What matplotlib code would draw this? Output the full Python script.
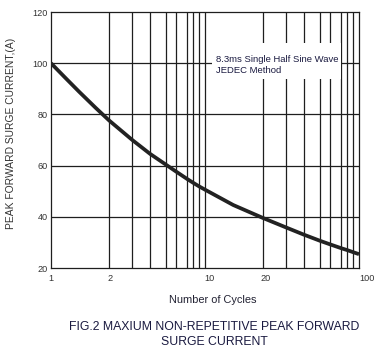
import numpy as np
import matplotlib
matplotlib.use("Agg")
import matplotlib.pyplot as plt
import matplotlib.transforms as mtransforms
from matplotlib.patches import Rectangle

plt.rcParams['font.family'] = ['Liberation Sans', 'DejaVu Sans']

# ---- data ----
cycles = [1, 1.2, 1.4, 1.7, 2, 3, 4, 5, 6, 7, 8, 9, 10, 14, 20, 30, 40, 50, 60, 70, 80, 90, 100]
current = [100, 93.9, 88.8, 82.6, 77.6, 70.0, 64.6, 60.3, 57.8, 54.7, 53.3, 51.9, 50.6, 44.6,
           39.5, 35.8, 33.0, 30.6, 29.3, 27.7, 27.0, 26.2, 25.4]
x_ticks = [1, 2, 10, 20, 100]
x_tick_labels = ["1", "2", "10", "20", "100"]
y_ticks = [20, 40, 60, 80, 100, 120]
grid_x = [2, 3, 4, 5, 6, 7, 8, 9, 10, 20, 30, 40, 50, 60, 70, 80, 90]
grid_y = [40, 60, 80, 100]

# ---- the chart's own (hand-drawn) log-like scale: decade fraction per value ----
scale_vals = [1, 2, 3, 4, 5, 6, 7, 8, 9, 10, 20, 30, 40, 50, 60, 70, 80, 90, 100]
scale_frac = [0, .378, .528, .643, .748, .809, .886, .923, .961, 1.0,
              1.378, 1.528, 1.643, 1.748, 1.809, 1.886, 1.923, 1.961, 2.0]
LOGV = np.log10(scale_vals)
FRAC = np.array(scale_frac)

def fwd(x):
    x = np.asarray(x, dtype=float)
    lx = np.log10(np.clip(x, 1e-3, None))
    return np.interp(lx, LOGV, FRAC)

def inv(t):
    t = np.asarray(t, dtype=float)
    return 10 ** np.interp(t, FRAC, LOGV)

fig = plt.figure(figsize=(3.88, 3.57), dpi=100)
ax = fig.add_axes([51/388, 1 - 268/357, 308/388, 256/357])
ax.set_xscale('function', functions=(fwd, inv))
ax.set_xlim(1, 100)
ax.set_ylim(20, 120)

lc = '#1e1e1e'
for gx in grid_x:
    ax.axvline(gx, color=lc, lw=0.9, zorder=1)
for gy in grid_y:
    ax.axhline(gy, color=lc, lw=0.9, zorder=1)

ax.plot(cycles, current, color='#222222', lw=2.7, solid_capstyle='butt',
        solid_joinstyle='round', zorder=4)

for s in ax.spines.values():
    s.set_color(lc)
    s.set_linewidth(0.9)

ax.set_xticks(x_ticks)
ax.set_xticklabels(x_tick_labels)
ax.xaxis.set_minor_locator(matplotlib.ticker.NullLocator())
ax.set_yticks(y_ticks)
ax.tick_params(axis='both', length=0, labelsize=6.6, colors='#333333')
ax.tick_params(axis='x', pad=4)
ax.tick_params(axis='y', pad=2.5)

# small rightward offsets of the x tick labels as in the reference
label_shift_px = [0, 1.3, 4, 2, 8]
for lab, dx in zip(ax.get_xticklabels(), label_shift_px):
    lab.set_transform(lab.get_transform() +
                      mtransforms.ScaledTranslation(dx / 100, 0, fig.dpi_scale_trans))

ax.set_xlabel("Number of Cycles", fontsize=7.9, color='#222233')
ax.xaxis.set_label_coords((212.5 - 51) / 308, (268 - 295) / 256)
ax.set_ylabel("PEAK FORWARD SURGE CURRENT,(A)", fontsize=7.4, color='#333333')
ax.yaxis.set_label_coords((16 - 51) / 308, (268 - 133.5) / 256)

# annotation box
ax.add_patch(Rectangle(((212 - 51) / 308, (268 - 79) / 256), 129 / 308, 36 / 256,
                       transform=ax.transAxes, facecolor='white', edgecolor='none', zorder=3))
ax.text((215.5 - 51) / 308, (268 - 59) / 256, "8.3ms Single Half Sine Wave",
        transform=ax.transAxes, fontsize=6.8, color='#1a1a40', va='center', ha='left', zorder=5)
ax.text((215.5 - 51) / 308, (268 - 70.5) / 256, "JEDEC Method",
        transform=ax.transAxes, fontsize=6.8, color='#1a1a40', va='center', ha='left', zorder=5)

fig.text(214.5 / 388, 1 - 326.7 / 357, "FIG.2 MAXIUM NON-REPETITIVE PEAK FORWARD",
         fontsize=8.8, color='#1a1a40', ha='center', va='center')
fig.text(214 / 388, 1 - 342 / 357, "SURGE CURRENT",
         fontsize=8.8, color='#1a1a40', ha='center', va='center')

fig.savefig("out.png", dpi=100, facecolor='white')
